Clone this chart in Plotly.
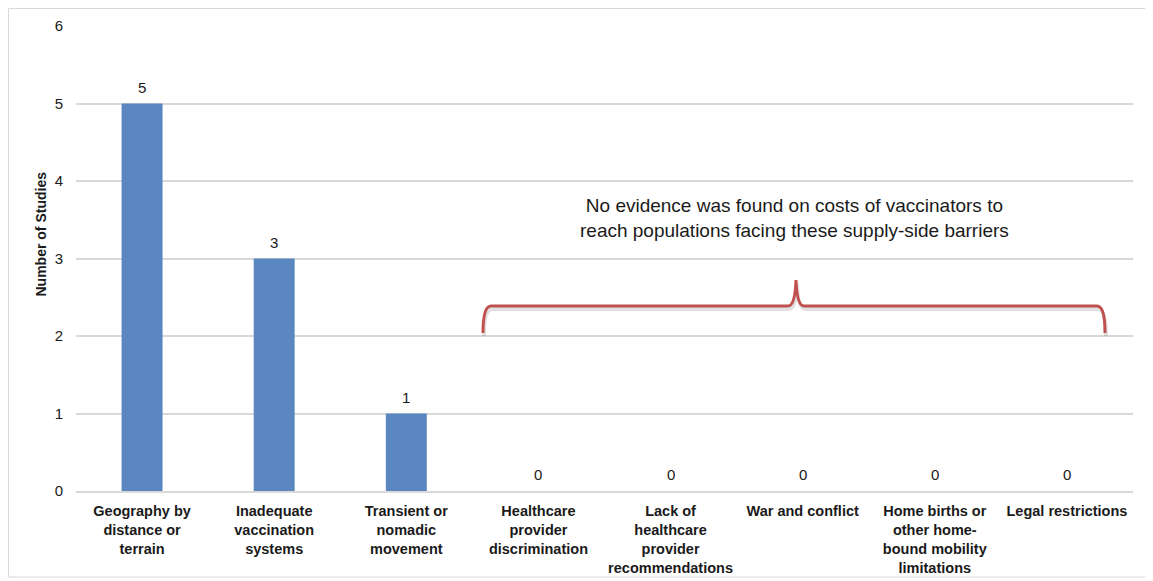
import plotly.graph_objects as go

categories = [
    "Geography by<br>distance or<br>terrain",
    "Inadequate<br>vaccination<br>systems",
    "Transient or<br>nomadic<br>movement",
    "Healthcare<br>provider<br>discrimination",
    "Lack of<br>healthcare<br>provider<br>recommendations",
    "War and conflict",
    "Home births or<br>other home-<br>bound mobility<br>limitations",
    "Legal restrictions",
]
studies = [5, 3, 1, 0, 0, 0, 0, 0]
y_ticks = [0, 1, 2, 3, 4, 5, 6]
y_title = "Number of Studies"
note_text = "No evidence was found on costs of vaccinators to<br>reach populations facing these supply-side barriers"

OFF = 8  # page body margin
W, H = 1153 - OFF, 581 - OFF
# target plot area in window pixels: x 76..1133, y 26..491
ML, MT = 76 - OFF, 26 - OFF
MR = W - (1133 - OFF)
MB = H - (491 - OFF)
PW, PH = W - ML - MR, H - MT - MB

def px(x):  # window pixel -> paper
    return (x - OFF - ML) / PW

def py(y):
    return (H - MB - (y - OFF)) / PH

FONT = "Liberation Sans, Arial"
TXT = "#1a1a1a"
cat_labels = [f"<b>{c}</b>" for c in categories]

fig = go.Figure()
fig.add_trace(go.Bar(
    x=cat_labels, y=studies,
    marker=dict(color="#5b87c1", line=dict(width=0)),
    cliponaxis=False,
))

# value labels above bars
for c, v in zip(cat_labels, studies):
    fig.add_annotation(x=c, y=v, xref="x", yref="y", text=str(v), showarrow=False,
                       yanchor="middle", yshift=16.5,
                       font=dict(size=15, color=TXT, family=FONT))

def brace_path(dx=0, dy=0):
    L, R, M = 483 + dx, 1105 + dx, 796 + dx
    yb, yh, yt = 333 + dy, 306 + dy, 280 + dy
    pts = [
        f"M {px(L)},{py(yb)}",
        f"Q {px(L)},{py(yh)} {px(L+8)},{py(yh)}",
        f"L {px(M-8)},{py(yh)}",
        f"Q {px(M-1)},{py(yh)} {px(M)},{py(yt)}",
        f"Q {px(M+1)},{py(yh)} {px(M+8)},{py(yh)}",
        f"L {px(R-8)},{py(yh)}",
        f"Q {px(R)},{py(yh)} {px(R)},{py(yb)}",
    ]
    return " ".join(pts)

fig.add_shape(type="path", xref="paper", yref="paper", path=brace_path(1, 3),
              line=dict(color="rgba(0,0,0,0.12)", width=4))
fig.add_shape(type="path", xref="paper", yref="paper", path=brace_path(),
              line=dict(color="#c0504d", width=3))

# outer frame
fig.add_shape(type="rect", xref="paper", yref="paper",
              x0=px(8.5), x1=px(1150), y0=py(577), y1=py(8.5),
              line=dict(color="#d9d9d9", width=1), layer="below")

fig.add_annotation(xref="paper", yref="paper", x=px(794), y=py(218.5),
                   xanchor="center", yanchor="middle",
                   text=note_text, showarrow=False,
                   font=dict(size=19, color=TXT, family=FONT),
                   align="center")

# y-axis title
fig.add_annotation(xref="paper", yref="paper", x=px(40), y=py(233.5),
                   xanchor="center", yanchor="middle", textangle=-90,
                   text=f"<b>{y_title}</b>", showarrow=False,
                   font=dict(size=14, color=TXT, family=FONT))

fig.update_layout(
    width=W, height=H,
    margin=dict(l=ML, r=MR, t=MT, b=MB, autoexpand=False),
    paper_bgcolor="white", plot_bgcolor="white",
    bargap=0.69, showlegend=False,
    font=dict(family=FONT, color=TXT),
    xaxis=dict(
        tickfont=dict(size=14.5, color=TXT, family=FONT),
        showline=True, linecolor="#d9d9d9", linewidth=1.5,
        ticks="", showgrid=False, tickangle=0, ticklabelstandoff=6,
        automargin=False,
    ),
    yaxis=dict(
        range=[0, 6], tickvals=y_ticks, ticktext=[str(t) for t in y_ticks],
        showgrid=True, gridcolor="#d9d9d9", gridwidth=1.5,
        zeroline=False, showline=False, ticks="", ticklabelstandoff=12,
        tickfont=dict(size=15, color=TXT, family=FONT),
        automargin=False,
    ),
)

fig.write_html("out.html")
